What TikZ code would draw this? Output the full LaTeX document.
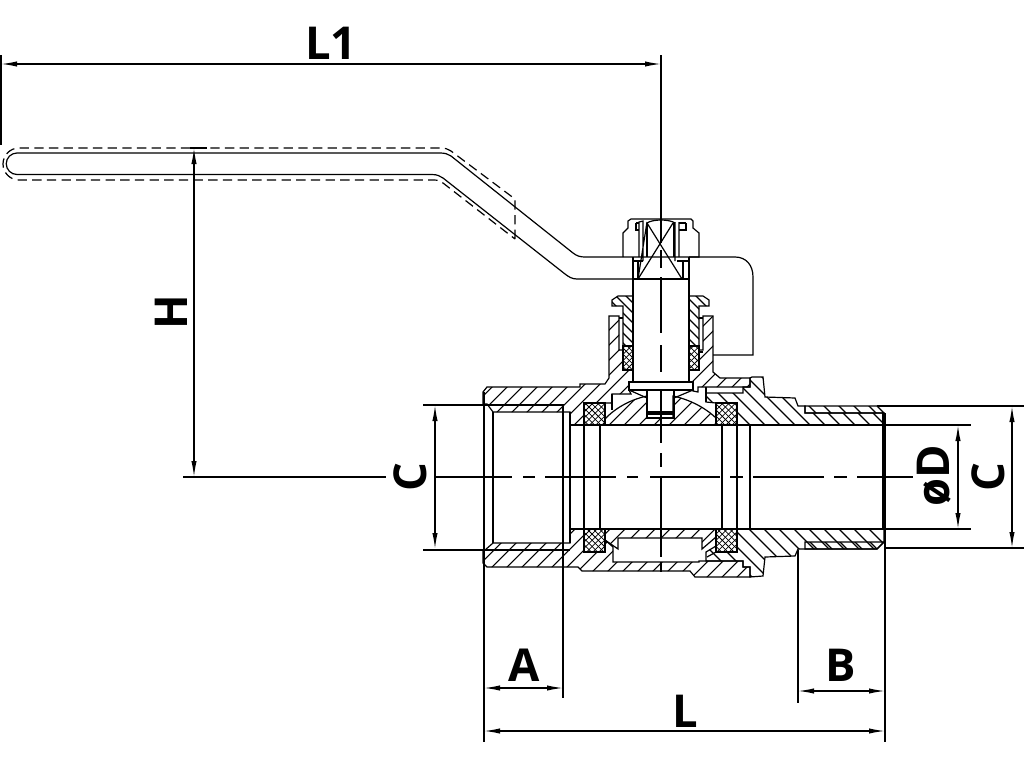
\documentclass[tikz,border=0pt]{standalone}
\usepackage{fontspec}
\setmainfont{Open Sans}
\usetikzlibrary{arrows.meta}
\tikzset{
  line/.style={line width=.9pt,line join=miter},
  hline/.style={line width=.8pt},
  dimline/.style={line width=1pt,{Latex[length=12pt,width=4pt]}-{Latex[length=12pt,width=4pt]}},
  extline/.style={line width=1.1pt},
  dashline/.style={line width=.9pt,dash pattern=on 7pt off 4pt},
  thick line/.style={line width=1.8pt},
  lbl/.style={font=\bfseries\fontsize{34}{34}\selectfont,inner sep=0pt}
}
% #1 path, #2 spacing, #3 offset : "/" hatching
\newcommand\hatchA[3]{\begin{scope}\clip #1;
  \foreach \c in {0,...,120}{\draw[hline] ({300+#3+\c*#2},200) -- ({300+#3+\c*#2-500},700);}
  \end{scope}\draw[line] #1;}
% "\" hatching
\newcommand\hatchB[3]{\begin{scope}\clip #1;
  \foreach \c in {0,...,120}{\draw[hline] ({-300+#3+\c*#2},200) -- ({-300+#3+\c*#2+500},700);}
  \end{scope}\draw[line] #1;}
% packing
\newcommand\packing[1]{\fill[white] #1;\begin{scope}\clip #1;
  \foreach \c in {0,...,140}{\draw[line width=.55pt] ({300+\c*6.2},200) -- ({300+\c*6.2-500},700);
    \draw[line width=.55pt] ({-300+\c*6.2},200) -- ({-300+\c*6.2+500},700);}
  \end{scope}\draw[line] #1;}
\begin{document}
\begin{tikzpicture}[x=0.75pt,y=-0.75pt]
\useasboundingbox (0,0) rectangle (1024,768);
% ---------- handle
\draw[line] (638,279) -- (577,279) .. controls (572,279) and (569,277) .. (565,274) -- (443,178)
  .. controls (440,176) and (437,174.5) .. (432,174.5) -- (17,174.5)
  arc[start angle=90,end angle=270,radius=10.75] -- (440,153)
  .. controls (445,153) and (448,154) .. (451,156) -- (573,253)
  .. controls (577,256) and (580,257) .. (585,257) -- (623,257);
\draw[line] (689,257) -- (735,257) .. controls (746,257) and (753,265) .. (753,277) -- (753,355) -- (713,355);
\draw[dashline] (515,239) -- (515,199) -- (451,151) .. controls (448,149) and (445,148) .. (441,148) -- (19,148)
  arc[start angle=270,end angle=90,radius=16] -- (434,180) .. controls (438,180) and (440,181) .. (443,183) -- (515,239);
% ---------- body hatching
\hatchA{(483,392)--(487,387)--(580,387)--(580,384)--(605,384)--(609,378)--(609,316)--(619,316)--(619,350)--(623,350)--(623,370)--(633,370)--(633,382)--(629,382)--(629,390)--(631,394)--(612,394)--(612,403)--(584,403)--(584,425)--(570,425)--(570,412)--(493,412)--(487,404)--(483,404)--cycle}{15}{4}
\hatchA{(703,316)--(713,316)--(713,372)--(720,378)--(750,378)--(750,387)--(698,387)--(698,392)--(693,391)--(693,382)--(689,382)--(689,370)--(699,370)--(699,350)--(703,350)--cycle}{15}{4}
\hatchA{(600,425) .. controls (610,411) and (628,400) .. (647,396)--(647,418)--(673,418)--(673,396) .. controls (692,400) and (712,411) .. (722,425)--cycle}{15}{9}
\hatchA{(483,550)--(485,550)--(493,543)--(570,543)--(570,529)--(584,529)--(584,552)--(605,552)--(605,540)--(613,547)--(613,562)--(699,562)--(699,561)--(743,561)--(743,567)--(750,567)--(750,577)--(695,577)--(690,571)--(582,571)--(578,567)--(487,567)--(483,563)--cycle}{15}{4}
\hatchA{(600,529)--(722,529)--(716,537)--(702,549)--(702,538)--(618,538)--(618,549)--(605,540)--cycle}{15}{9}
\hatchB{(706,393)--(743,393)--(743,387)--(750,387)--(750,378)--(752,377)--(763,377)--(765,397)--(795,398)--(798,406)--(805,406)--(805,413)--(884,413)--(884,425)--(737,425)--(737,403)--(716,403)--(706,402)--cycle}{15}{0}
\hatchB{(805,406)--(877,406)--(884,413)--(805,413)--cycle}{15}{3}
\hatchB{(716,546)--(737,552)--(737,529)--(884,529)--(884,542)--(877,549)--(798,549)--(795,556)--(765,557)--(763,576)--(750,577)--(750,567)--(743,567)--(743,561)--(706,561)--(706,552)--cycle}{15}{0}
\hatchB{(805,542)--(884,542)--(877,549)--(805,549)--cycle}{15}{3}
% ---------- gland sleeve
\hatchB{(612,306)--(612,300)--(618,296)--(633,296)--(633,346)--(623,346)--(623,306)--cycle}{10}{0}
\hatchB{(699,306)--(709,306)--(709,300)--(703,296)--(689,296)--(689,346)--(699,346)--cycle}{10}{0}
\draw[line] (619,318) -- (623,318) (699,318) -- (703,318) (699,352) -- (703,352);
% ---------- packings
\packing{(623,346) rectangle (633,370)}
\packing{(689,346) rectangle (699,370)}
\packing{(584,403) rectangle (605,425)}
\packing{(584,529) rectangle (605,552)}
\packing{(716,403) rectangle (737,425)}
\packing{(716,529) rectangle (737,552)}
% ---------- stem and head
\draw[line] (633,257) -- (633,382) (689,257) -- (689,382) (633,279) -- (689,279);
\draw[line] (623,257) -- (623,233) -- (628,228) -- (628,221) -- (631,219) -- (691,219) -- (693,221) -- (693,228) -- (699,233) -- (699,257) -- (623,257);
\draw[line] (638,261) -- (638,279) (683,261) -- (683,279) (633,261) -- (643,261) (677,261) -- (689,261);
\draw[line] (639,257) -- (639,222) -- (643,221) -- (643,261)
  (647,222) -- (638,279) (675,222) -- (675,261) (679,222) -- (679,257);
\fill[white] (644,258) rectangle (674,278);
\fill[white] (648,220) rectangle (674,256);
\draw[line] (647,223) -- (647,257) (674,223) -- (674,257);
\draw[line] (647,223) -- (682,279) (673,223) -- (638,279);
\draw[line] (633,279) -- (689,279);
\draw[line] (647,223) .. controls (653,219) and (669,219) .. (675,223);
\draw[line] (636,223) -- (636,230) -- (639,230) (636,223) -- (639,223) (686,223) -- (686,230) -- (679,230) (686,223) -- (679,223);
\draw[line] (629,382) rectangle (693,390);
\draw[thick line] (629,382) -- (693,382);
\draw[line] (647,390) -- (647,418) -- (674,418) -- (674,390) (647,412) -- (674,412) (647,414) -- (674,414);
\draw[line] (629,390) -- (647,398) (693,390) -- (674,398);
\draw[line] (612,394) -- (612,410);
\draw[line] (706,387) -- (706,402);
% ---------- bore
\draw[line] (493,412) -- (493,543) (563,404) -- (563,543) (570,412) -- (570,543)
  (584,425) -- (584,529) (600,425) -- (600,529) (722,425) -- (722,529) (737,425) -- (737,529) (750,425) -- (750,529);
\draw[line] (570,425) -- (750,425) (570,529) -- (750,529);
\draw[thick line] (750,425) -- (884,425) (750,529) -- (884,529);
\draw[line] (883,413) -- (883,529);
\draw[line] (707,557) -- (716,552);
% ---------- centre lines
\draw[line] (661,243) -- (661,64) (661,250) -- (661,268) (661,277) -- (661,333) (661,345) -- (661,372) (661,390) -- (661,443) (661,453) -- (661,467) (661,477) -- (661,557) (661,562) -- (661,572);
\draw[line] (434,477) -- (512,477) (523,477) -- (535,477) (545,477) -- (616,477) (627,477) -- (638,477) (650,477) -- (720,477) (730,477) -- (743,477) (753,477) -- (824,477) (834,477) -- (847,477) (857,477) -- (913,477);
% ---------- dimensions
\coordinate (l1a) at (1,64); \coordinate (l1b) at (661,64);
\coordinate (ha) at (194,148); \coordinate (hb) at (194,477);
\coordinate (cla) at (435,405); \coordinate (clb) at (435,549);
\coordinate (cra) at (1012,406); \coordinate (crb) at (1012,548);
\coordinate (da) at (958,425); \coordinate (db) at (958,529);
\coordinate (aa) at (484,688); \coordinate (ab) at (563,688);
\coordinate (ba) at (798,691); \coordinate (bb) at (885,691);
\coordinate (la) at (484,731); \coordinate (lb) at (885,731);
\draw[dimline] (l1a) -- (l1b);
\draw[dimline] (ha) -- (hb);
\draw[dimline] (cla) -- (clb);
\draw[dimline] (cra) -- (crb);
\draw[dimline] (da) -- (db);
\draw[dimline] (aa) -- (ab);
\draw[dimline] (ba) -- (bb);
\draw[dimline] (la) -- (lb);
\draw[extline] (1,55) -- (1,145);
\draw[extline] (661,55) -- (661,70);
\draw[extline] (190,148) -- (207,148);
\draw[extline] (183,477) -- (386,477);
\draw[extline] (423,405) -- (563,405);
\draw[extline] (423,550) -- (570,550);
\draw[extline] (877,406) -- (1024,406);
\draw[extline] (884,548) -- (1024,548);
\draw[extline] (884,425) -- (971,425);
\draw[extline] (884,529) -- (971,529);
\draw[extline] (484,392) -- (484,742);
\draw[extline] (563,543) -- (563,698);
\draw[extline] (798,550) -- (798,703);
\draw[extline] (885,413) -- (885,742);
% ---------- labels
\node[lbl] (tl1) at (331,43) {L1};
\node[lbl,rotate=90] (th) at (171,312) {H};
\node[lbl,rotate=90] (tcl) at (410,477) {C};
\node[lbl,rotate=90] (td) at (934,476) {øD};
\node[lbl,rotate=90] (tcr) at (988,477) {C};
\node[lbl] (ta) at (524,665) {A};
\node[lbl] (tb) at (841,665) {B};
\node[lbl] (tl) at (685,711) {L};
\end{tikzpicture}
\end{document}
